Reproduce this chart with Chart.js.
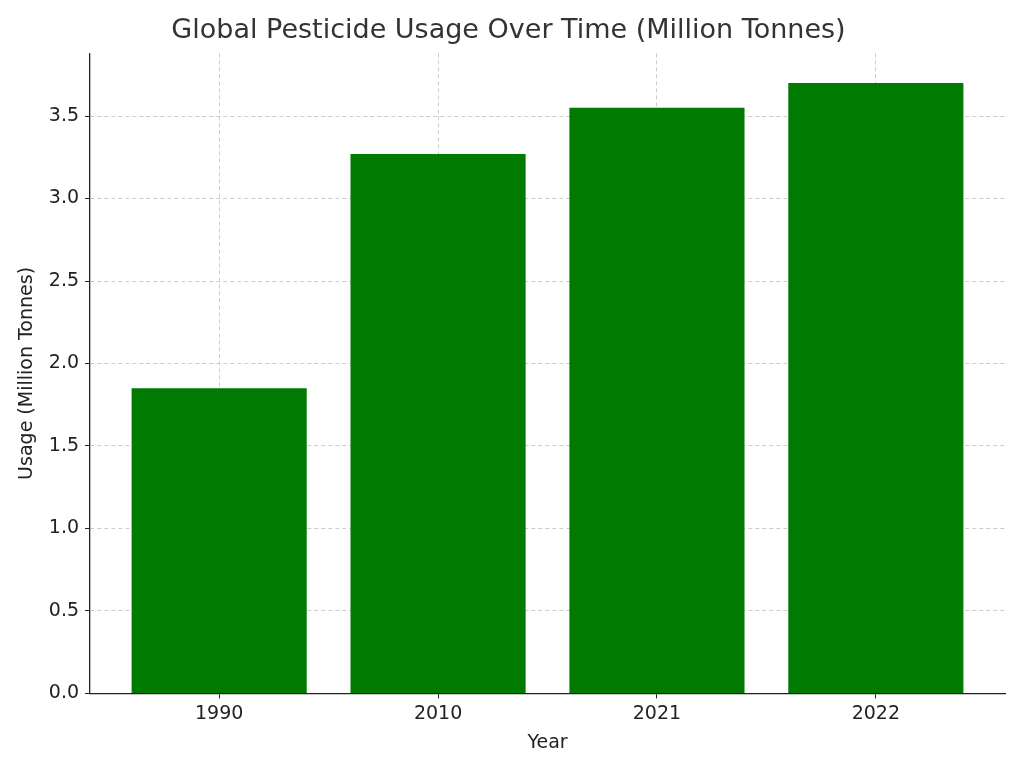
<!DOCTYPE html>
<html><head><meta charset="utf-8">
<script src="https://cdn.jsdelivr.net/npm/chart.js@4"></script>
<style>html,body{margin:0;background:#fff}#w{width:1024px;height:768px}</style>
</head><body><div id="w"><canvas id="c"></canvas></div>
<script>
const years = ['1990','2010','2021','2022'];
const usage = [1.85, 3.27, 3.55, 3.70];
const yTicks = [0,0.5,1.0,1.5,2.0,2.5,3.0,3.5];
Chart.defaults.font.family = 'DejaVu Sans';
Chart.defaults.color = '#222';
new Chart(document.getElementById('c'), {
  type: 'bar',
  data: { datasets: [{ data: usage.map((v,i)=>({x:i,y:v})), backgroundColor:'#007a00', categoryPercentage:0.8, barPercentage:1 }] },
  options: {
    responsive:true, maintainAspectRatio:false, animation:false,
    layout:{padding:{left:12,right:19,top:0,bottom:10}},
    plugins:{legend:{display:false}, tooltip:{enabled:false},
      title:{display:true,text:'Global Pesticide Usage Over Time (Million Tonnes)',color:'#333',font:{size:27,weight:'normal'},padding:{top:15,bottom:6}}},
    scales:{
      x:{type:'linear',min:-0.59,max:3.59,offset:false,
        afterBuildTicks:a=>{a.ticks=years.map((_,i)=>({value:i}));},
        ticks:{callback:v=>years[v],font:{size:19},color:'#222',padding:4},
        grid:{offset:false,color:'#ccc',drawTicks:true,tickColor:'#222',tickLength:5},
        border:{color:'#222',width:1.3,dash:[4,3]},
        title:{display:true,text:'Year',font:{size:19},color:'#222',padding:{top:2}}},
      y:{min:0,max:3.88,
        afterBuildTicks:a=>{a.ticks=yTicks.map(v=>({value:v}));},
        ticks:{callback:v=>v.toFixed(1),font:{size:19},color:'#222',padding:6},
        grid:{color:'#ccc',drawTicks:true,tickColor:'#222',tickLength:5},
        border:{color:'#222',width:1.3,dash:[4,3]},
        title:{display:true,text:'Usage (Million Tonnes)',font:{size:19},color:'#222',padding:{bottom:4}}}
    }
  }
});
</script></body></html>
